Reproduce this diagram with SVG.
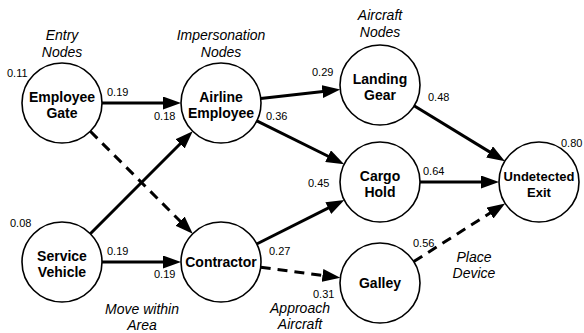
<svg xmlns="http://www.w3.org/2000/svg" width="584" height="333" viewBox="0 0 584 333">
<style>
  .node circle { fill: #fff; stroke: #000; stroke-width: 1.6; }
  .node text { font-family: "Liberation Sans", Arial, sans-serif; font-weight: bold; font-size: 14px; text-anchor: middle; fill: #000; }
  .edge { stroke: #000; stroke-width: 3; fill: none; marker-end: url(#arr); }
  .dash { stroke-dasharray: 10 7; }
  .num { font-family: "Liberation Sans", Arial, sans-serif; font-size: 11px; fill: #000; }
  .cap { font-family: "Liberation Sans", Arial, sans-serif; font-style: italic; font-size: 14px; text-anchor: middle; fill: #000; }
</style>
<defs>
  <marker id="arr" markerUnits="userSpaceOnUse" markerWidth="18" markerHeight="13" refX="12" refY="6.5" orient="auto">
    <path d="M0,0 L18,6.5 L0,13 z" fill="#000"/>
  </marker>
</defs>
<rect width="584" height="333" fill="#fff"/>
<g id="connectors">
  <line class="edge" x1="102" y1="103" x2="175" y2="103"/>
  <line class="edge dash" x1="90.3" y1="131.3" x2="188.5" y2="229.5"/>
  <line class="edge" x1="90.3" y1="233.7" x2="188.5" y2="135.5"/>
  <line class="edge" x1="102" y1="262" x2="175" y2="262"/>
  <line class="edge" x1="260.7" y1="98.5" x2="334.3" y2="90.2"/>
  <line class="edge" x1="256.8" y1="120.8" x2="338.8" y2="161.5"/>
  <line class="edge" x1="256.7" y1="244" x2="339" y2="202.7"/>
  <line class="edge dash" x1="260.7" y1="267.2" x2="334.4" y2="277"/>
  <line class="edge" x1="414.1" y1="105.8" x2="499.8" y2="158.1"/>
  <line class="edge" x1="420" y1="182" x2="493" y2="182"/>
  <line class="edge dash" x1="413.8" y1="261.6" x2="500.1" y2="206.6"/>
</g>
<g id="employee-gate" class="node"><circle cx="62" cy="103" r="40"/><text x="62" y="102">Employee</text><text x="62" y="118">Gate</text></g>
<g id="airline-employee" class="node"><circle cx="221" cy="103" r="40"/><text x="221" y="102">Airline</text><text x="221" y="118">Employee</text></g>
<g id="landing-gear" class="node"><circle cx="380" cy="85" r="40"/><text x="380" y="84">Landing</text><text x="380" y="100">Gear</text></g>
<g id="cargo-hold" class="node"><circle cx="380" cy="182" r="40"/><text x="380" y="181">Cargo</text><text x="380" y="197">Hold</text></g>
<g id="undetected-exit" class="node"><circle cx="539" cy="182" r="40"/><text x="539" y="181" style="font-size:13px">Undetected</text><text x="539" y="197" style="font-size:13px">Exit</text></g>
<g id="service-vehicle" class="node"><circle cx="62" cy="262" r="40"/><text x="62" y="261">Service</text><text x="62" y="277">Vehicle</text></g>
<g id="contractor" class="node"><circle cx="221" cy="262" r="40"/><text x="221" y="267">Contractor</text></g>
<g id="galley" class="node"><circle cx="380" cy="283" r="40"/><text x="380" y="288">Galley</text></g>
<g id="labels">
  <text class="num" x="7" y="77">0.11</text>
  <text class="num" x="107" y="96">0.19</text>
  <text class="num" x="154" y="120">0.18</text>
  <text class="num" x="266" y="120">0.36</text>
  <text class="num" x="312" y="76">0.29</text>
  <text class="num" x="428" y="101">0.48</text>
  <text class="num" x="561" y="147">0.80</text>
  <text class="num" x="308" y="187">0.45</text>
  <text class="num" x="423" y="175">0.64</text>
  <text class="num" x="413" y="247">0.56</text>
  <text class="num" x="313" y="298">0.31</text>
  <text class="num" x="269" y="255">0.27</text>
  <text class="num" x="10" y="227">0.08</text>
  <text class="num" x="107" y="255">0.19</text>
  <text class="num" x="154" y="278">0.19</text>
  <text class="cap" x="62" y="40">Entry</text>
  <text class="cap" x="62" y="57">Nodes</text>
  <text class="cap" x="221" y="40">Impersonation</text>
  <text class="cap" x="221" y="57">Nodes</text>
  <text class="cap" x="380" y="20">Aircraft</text>
  <text class="cap" x="380" y="37">Nodes</text>
  <text class="cap" x="142" y="314">Move within</text>
  <text class="cap" x="142" y="330">Area</text>
  <text class="cap" x="300" y="313">Approach</text>
  <text class="cap" x="300" y="329">Aircraft</text>
  <text class="cap" x="474" y="262">Place</text>
  <text class="cap" x="474" y="278">Device</text>
</g>
</svg>
